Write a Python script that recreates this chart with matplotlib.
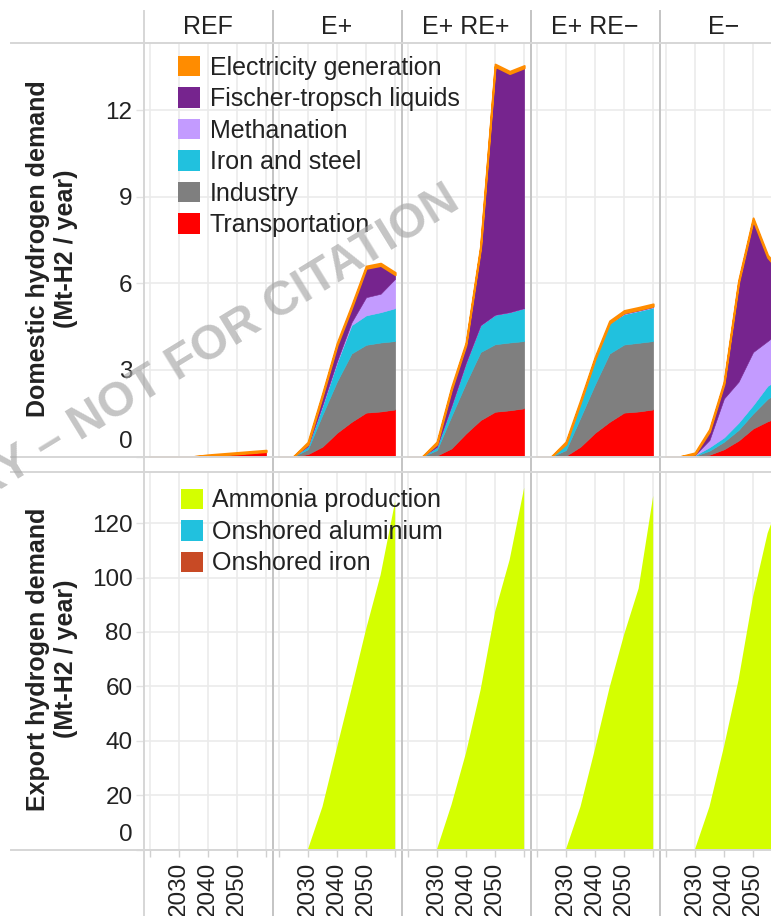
import numpy as np
import matplotlib
matplotlib.use('Agg')
import matplotlib.pyplot as plt
from matplotlib.patches import Patch
from matplotlib.lines import Line2D

plt.rcParams['font.family'] = ['Liberation Sans', 'DejaVu Sans']

# Datos
years = [2020, 2025, 2030, 2035, 2040, 2045, 2050, 2055, 2060]
scenarios = ['REF', 'E+', 'E+ RE+', 'E+ RE−', 'E−']

# Demanda doméstica (Mt-H2 / año), de abajo hacia arriba
transport = {
    'REF':    [0, 0, 0, 0, 0.03, 0.06, 0.09, 0.13, 0.17],
    'E+':     [0, 0, 0.08, 0.34, 0.82, 1.20, 1.52, 1.56, 1.63],
    'E+ RE+': [0, 0, 0.03, 0.28, 0.80, 1.26, 1.55, 1.60, 1.67],
    'E+ RE−': [0, 0, 0.02, 0.34, 0.82, 1.20, 1.52, 1.56, 1.63],
    'E−':     [0, 0, 0, 0.06, 0.25, 0.55, 0.97, 1.22, 1.40],
}
industry = {
    'REF':    [0, 0, 0, 0, 0, 0, 0, 0, 0],
    'E+':     [0, 0, 0.17, 1.11, 1.78, 2.37, 2.35, 2.39, 2.37],
    'E+ RE+': [0, 0, 0.19, 1.12, 1.75, 2.36, 2.34, 2.35, 2.33],
    'E+ RE−': [0, 0, 0.20, 1.01, 1.68, 2.37, 2.36, 2.38, 2.37],
    'E−':     [0, 0, 0.02, 0.14, 0.26, 0.37, 0.52, 0.78, 0.90],
}
iron_steel = {
    'REF':    [0, 0, 0, 0, 0, 0, 0, 0, 0],
    'E+':     [0, 0, 0.10, 0.30, 0.65, 0.98, 1.02, 1.05, 1.14],
    'E+ RE+': [0, 0, 0.11, 0.35, 0.70, 0.93, 1.02, 1.05, 1.14],
    'E+ RE−': [0, 0, 0.21, 0.52, 0.87, 1.05, 1.05, 1.10, 1.16],
    'E−':     [0, 0, 0.02, 0.12, 0.15, 0.25, 0.29, 0.45, 0.45],
}
methanation = {
    'REF':    [0, 0, 0, 0, 0, 0, 0, 0, 0],
    'E+':     [0, 0, 0, 0.03, 0.05, 0.10, 0.63, 0.64, 1.02],
    'E+ RE+': [0, 0, 0, 0, 0, 0, 0, 0, 0],
    'E+ RE−': [0, 0, 0, 0, 0, 0, 0.02, 0.02, 0.02],
    'E−':     [0, 0, 0.01, 0.25, 1.35, 1.42, 1.84, 1.55, 1.65],
}
fischer_tropsch = {
    'REF':    [0, 0, 0, 0, 0, 0, 0, 0, 0],
    'E+':     [0, 0, 0.07, 0.32, 0.55, 0.50, 1.00, 0.98, 0.14],
    'E+ RE+': [0, 0, 0.10, 0.57, 0.62, 2.67, 8.61, 8.27, 8.33],
    'E+ RE−': [0, 0, 0, 0, 0, 0, 0.03, 0.03, 0.03],
    'E−':     [0, 0, 0.03, 0.29, 0.50, 3.43, 4.57, 2.90, 1.90],
}
electricity = {
    'REF':    [0, 0, 0, 0, 0.03, 0.04, 0.05, 0.05, 0.05],
    'E+':     [0, 0, 0.08, 0.08, 0.08, 0.08, 0.08, 0.08, 0.08],
    'E+ RE+': [0, 0, 0.08, 0.08, 0.08, 0.08, 0.08, 0.08, 0.08],
    'E+ RE−': [0, 0, 0.08, 0.08, 0.08, 0.08, 0.08, 0.08, 0.08],
    'E−':     [0, 0, 0.05, 0.08, 0.08, 0.08, 0.08, 0.08, 0.08],
}

# Demanda de exportación (Mt-H2 / año)
ammonia = {
    'REF':    [0, 0, 0, 0, 0, 0, 0, 0, 0],
    'E+':     [0, 0, 0, 15.7, 37.5, 59.0, 81.0, 101.0, 128.0],
    'E+ RE+': [0, 0, 0, 16.4, 35.5, 58.6, 87.4, 106.5, 133.0],
    'E+ RE−': [0, 0, 0, 15.7, 37.0, 59.5, 79.0, 96.0, 130.0],
    'E−':     [0, 0, 0, 15.7, 37.8, 62.3, 93.0, 116.3, 131.0],
}
onshored_aluminium = {s: [0] * len(years) for s in scenarios}
onshored_iron = {s: [0] * len(years) for s in scenarios}

dom_labels = ['Transportation', 'Industry', 'Iron and steel', 'Methanation',
              'Fischer-tropsch liquids', 'Electricity generation']
dom_colors = ['#FF0000', '#7F7F7F', '#21C1DE', '#C39BFF', '#76248E', '#FF8C00']
exp_labels = ['Onshored iron', 'Onshored aluminium', 'Ammonia production']
exp_colors = ['#C84A25', '#21C1DE', '#D4FF00']

W, H = 771, 916
fig = plt.figure(figsize=(W / 100, H / 100), dpi=100)

panel_left = [144, 273, 402, 531, 660]
panel_w = 128
rows = [(43, 456.5), (472, 849.5)]
txt = '#222222'
fs_tick = 17.5
fs_text = 18

def px_axes(l, top, bot):
    return fig.add_axes([l / W, 1 - bot / H, panel_w / W, (bot - top) / H])

for j, s in enumerate(scenarios):
    for i, (top, bot) in enumerate(rows):
        ax = px_axes(panel_left[j], top, bot)
        if i == 0:
            series = [transport[s], industry[s], iron_steel[s], methanation[s],
                      fischer_tropsch[s], electricity[s]]
            polys = ax.stackplot(years, *series, colors=dom_colors)
            for p, c in zip(polys, dom_colors):
                p.set_edgecolor(c)
                p.set_linewidth(1.4 if c == '#FF8C00' else 0.4)
            ax.set_ylim(0, 14.33)
            yt = [0, 3, 6, 9, 12]
        else:
            series = [onshored_iron[s], onshored_aluminium[s], ammonia[s]]
            polys = ax.stackplot(years, *series, colors=exp_colors, linewidth=0)
            ax.set_ylim(0, 138.8)
            yt = [0, 20, 40, 60, 80, 100, 120]
        ax.set_xlim(2018, 2062)
        ax.set_xticks([2020, 2030, 2040, 2050, 2060])
        ax.set_yticks(yt)
        ax.grid(True, color='#ebebeb', lw=1.2)
        ax.set_axisbelow(True)
        for sp in ax.spines.values():
            sp.set_visible(False)

        if j == 0:
            ax.set_yticklabels([''] + [str(v) for v in yt[1:]])
            ax.tick_params(axis='y', length=5.8, width=1, color='#e3e3e3',
                           pad=2.5, labelsize=fs_tick, labelcolor=txt)
            # la etiqueta "0" va desplazada hacia arriba
            ax.annotate('0', xy=(0, 0), xycoords=('axes fraction', 'data'),
                        xytext=(-8.3, 10.4), textcoords='offset points',
                        ha='right', va='center', fontsize=fs_tick, color=txt)
        else:
            ax.tick_params(axis='y', left=False, labelleft=False)

        if i == 1:
            ax.set_xticklabels(['', '2030', '2040', '2050', ''])
            ax.tick_params(axis='x', length=5, width=1, color='#d0d0d0',
                           pad=3.5, labelsize=fs_tick, labelcolor=txt,
                           labelrotation=90)
        else:
            ax.tick_params(axis='x', bottom=False, labelbottom=False)

    fig.text((panel_left[j] + panel_w / 2) / W, 1 - 27 / H, s,
             ha='center', va='center', fontsize=fs_text, color=txt)

# Títulos de filas
fig.text(52 / W, 1 - 249 / H, 'Domestic hydrogen demand\n(Mt-H2 / year)',
         rotation=90, ha='center', va='center', fontsize=fs_text,
         fontweight='bold', linespacing=1.2, color=txt)
fig.text(52 / W, 1 - 659 / H, 'Export hydrogen demand\n(Mt-H2 / year)',
         rotation=90, ha='center', va='center', fontsize=fs_text,
         fontweight='bold', linespacing=1.2, color=txt)

# Líneas de la tabla
for x in [144]:
    fig.add_artist(Line2D([x / W] * 2, [1 - 11 / H, 0], color='#d6d6d6', lw=1.4))
for x in [272.5, 401.5, 530.5, 659.5]:
    fig.add_artist(Line2D([x / W] * 2, [1 - 11 / H, 0], color='#c4c4c4', lw=1.4))
for y in [43, 456.5, 472, 849.5]:
    fig.add_artist(Line2D([11 / W, 1], [1 - y / H] * 2, color='#d6d6d6', lw=1.4))

# Leyendas
leg_kw = dict(loc='upper left', frameon=False, fontsize=fs_text,
              handlelength=0.88, handleheight=0.88, handletextpad=0.38,
              labelspacing=0.30, borderpad=0, borderaxespad=0, labelcolor=txt)
h_dom = [Patch(facecolor=c, edgecolor='none') for c in dom_colors[::-1]]
fig.legend(h_dom, dom_labels[::-1], bbox_to_anchor=(178 / W, 1 - 55.5 / H), **leg_kw)
h_exp = [Patch(facecolor=c, edgecolor='none') for c in exp_colors[::-1]]
fig.legend(h_exp, exp_labels[::-1], bbox_to_anchor=(181 / W, 1 - 488.5 / H), **leg_kw)

# Marca de agua
fig.text(455 / W, 1 - 196 / H, 'PRELIMINARY – NOT FOR CITATION',
         rotation=31.5, rotation_mode='anchor', ha='right', va='center',
         fontsize=34.5, fontweight='bold', color='#a6a6a6', alpha=0.65, zorder=10)

fig.savefig('out.png', dpi=100)
